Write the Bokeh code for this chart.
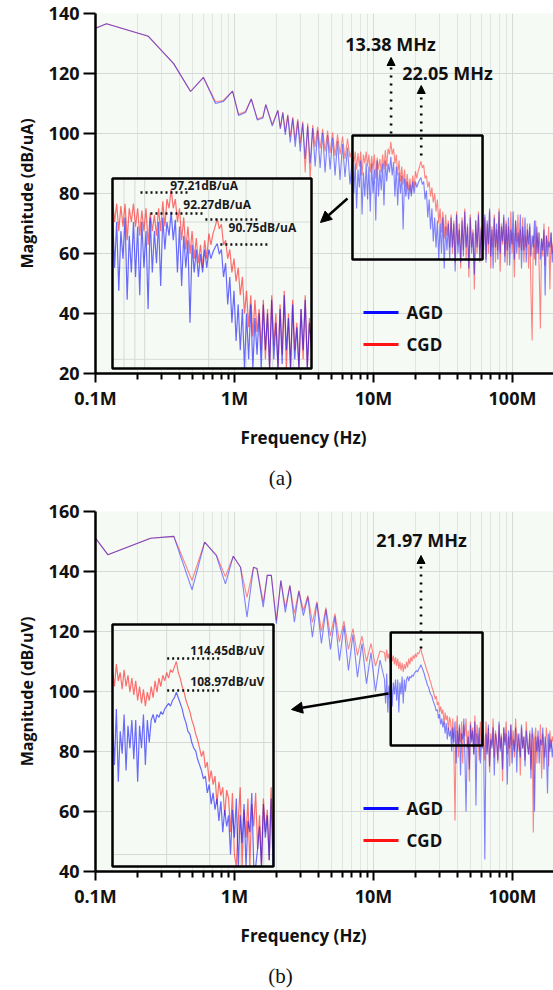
import numpy as np
from bokeh.plotting import figure
from bokeh.models import (Range1d, LogScale, FixedTicker, CustomJSTickFormatter,
                          Arrow, NormalHead)
from bokeh.layouts import column
from bokeh.core.properties import value
from bokeh.embed import file_html
from bokeh.resources import INLINE

MHZ = 1e6

# ======================= DATA =======================
# ---- Panel (a): current spectrum, dB/uA ----
A_LOW_F_MHZ = [0.1, 0.12, 0.24, 0.365, 0.483, 0.598, 0.73, 0.833, 0.968, 1.07,
               1.2, 1.32, 1.46, 1.6, 1.68, 1.87]
A_LOW_AGD = [135.1, 136.6, 132.4, 123.3, 114.0, 118.7, 110.0, 110.7, 114.1, 106.0,
             107.0, 111.5, 104.5, 105.2, 109.6, 102.5]
A_LOW_CGD = [135.1, 136.6, 132.4, 123.3, 114.0, 118.7, 110.6, 111.0, 114.1, 106.4,
             107.3, 111.5, 104.8, 105.5, 109.6, 103.0]
# harmonic comb 2.05 - 7.06 MHz (peak / dip pairs)
A_COMB_AGD = [107.7, 101.5, 106.9, 99.5, 106.0, 97.0, 105.0, 95.5, 104.2, 94.0,
              103.4, 91.5, 102.6, 90.0, 101.8, 89.0, 101.0, 88.5, 100.2, 87.0,
              99.4, 88.0, 98.6, 86.0, 97.6, 84.5, 96.5, 85.5, 95.3, 83.0]
A_COMB_CGD = [107.7, 102.0, 107.1, 100.5, 106.3, 99.0, 105.5, 97.8, 104.8, 96.8,
              104.0, 87.0, 103.4, 84.5, 102.8, 95.5, 102.2, 95.0, 101.6, 94.0,
              101.0, 93.5, 100.4, 92.5, 99.7, 93.0, 99.0, 91.5, 98.3, 92.0]
# zoomed box 7.06 - 60.9 MHz
A_BOX_AGD = [92, 80, 90, 75, 88, 82, 91, 73, 87, 79, 90,
             78, 89, 74, 90, 80, 88, 71, 91, 79, 88,
             81, 90, 76, 91, 84, 90, 87,
             92.27,
             86, 90.5, 79,
             89, 76, 87, 80, 86, 68, 85, 79, 84, 78,
             83, 79, 84, 80, 84, 82,
             83.5, 84.5,
             85.3,
             83, 84,
             78, 81, 72, 78, 68, 75, 64, 72,
             62, 71, 58, 70, 60, 72, 55, 69, 61, 70,
             58, 72, 62, 70, 54, 73, 60, 68, 57, 71,
             59, 74, 62, 69, 55, 72, 60, 67, 53, 71, 62, 73, 58, 68, 63]
A_BOX_CGD = [95, 90, 94, 88, 93.5, 89, 94, 86, 93, 90, 94,
             89, 93, 87, 92.5, 88, 93, 85, 92, 88, 91.5,
             87, 93, 88, 94.5, 89, 95, 93,
             97.21,
             93, 95, 90,
             93, 86, 91, 84, 89, 83, 88, 82, 86.5, 81,
             85, 80, 86, 82, 87.5, 85,
             87.5, 89,
             90.75,
             88.5, 89.5,
             85, 86, 82, 84, 79, 82, 77, 80,
             74, 78, 70, 75, 67, 74, 65, 73, 66, 71,
             62, 73, 60, 71, 57, 74, 63, 70, 55, 72,
             61, 75, 58, 70, 52, 73, 62, 68, 48, 71, 60, 74, 57, 69, 62]
# high band 62 - 197 MHz
A_HI_AGD = [61, 73, 57, 71, 63, 75, 59, 68, 55, 72, 62, 70, 58, 74, 60, 69, 64, 73, 57, 70,
            61, 72, 56, 68, 63, 74, 58, 71, 60, 67, 62, 73, 55, 69, 61, 72, 57, 68, 63, 70,
            59, 66, 62, 71, 56, 69, 60, 67, 58, 65, 61, 68, 46, 66, 59, 64, 62, 67, 57, 63]
A_HI_CGD = [63, 72, 58, 70, 60, 74, 55, 69, 62, 73, 57, 68, 61, 75, 54, 70, 63, 72, 59, 71,
            56, 69, 62, 74, 60, 67, 52, 71, 64, 73, 58, 68, 61, 72, 57, 66, 62, 70, 55, 69,
            47, 31, 66, 58, 71, 60, 67, 54, 35, 65, 59, 70, 56, 66, 62, 69, 48, 67, 60, 64]

# ---- Panel (b): voltage spectrum, dB/uV ----
B_LOW_F_MHZ = [0.1, 0.1226, 0.249, 0.366, 0.495, 0.61, 0.74, 0.86, 0.98, 1.105,
               1.23, 1.37, 1.45, 1.61, 1.72, 1.84]
B_LOW_AGD = [151.1, 145.6, 151.1, 151.7, 133.9, 149.8, 145.3, 135.9, 145.1, 141.4,
             124.8, 141.4, 141.0, 128.1, 138.7, 138.7]
B_LOW_CGD = [151.1, 145.6, 151.1, 151.7, 137.0, 149.8, 145.5, 138.3, 145.1, 141.4,
             131.4, 141.4, 141.0, 129.8, 138.7, 138.7]
# comb 2.0 - 12 MHz (dip / peak pairs)
B_COMB_AGD = [122.6, 137.0, 126.4, 135.3, 123.1, 133.4, 125.3, 131.5, 118.1, 129.5,
              116.0, 127.3, 114.0, 125.0, 110.3, 122.0, 107.0, 119.0, 104.8, 116.0,
              102.6, 113.0, 100.0, 110.5]
B_COMB_CGD = [123.7, 137.0, 128.0, 135.3, 126.0, 133.6, 127.0, 132.0, 123.0, 130.0,
              120.0, 128.0, 118.5, 126.0, 116.5, 123.5, 114.0, 121.0, 112.0, 118.5,
              110.0, 116.0, 108.5, 113.5]
# zoomed region 12 - 60.9 MHz
B_BOX_AGD = [104, 96, 106, 93, 102, 98, 105, 95, 103, 99, 104,
             97, 104, 93, 103, 99, 105, 96, 104, 100,
             104, 105, 103.5, 105, 104.5, 105.5, 105, 106, 106.5, 107, 106.5, 107.5, 108,
             108.97,
             108, 107, 106, 104.5, 103.5, 102, 101.5, 100, 99, 98.5, 97, 96,
             95, 93.5, 94, 91, 92.5, 89, 91, 88, 90, 86, 89.5, 84, 88, 85, 87,
             80, 88, 83, 90, 76, 87, 82, 89, 72, 86, 84, 91, 78, 60, 81, 85, 74, 89, 83, 87,
             79, 90, 62, 86, 82, 88, 76, 84, 81]
B_BOX_CGD = [113, 110, 114, 111, 112.5, 109.5, 113, 110, 112, 109, 111.5,
             108.5, 111, 107.5, 110, 107, 109.5, 106.5, 109, 107.5, 110, 108, 111,
             109, 111.5, 110, 112, 111, 112.5, 111.5, 113, 112.5, 113.5,
             114.45,
             112.5, 111.5, 110, 109, 107.5, 106.5, 105.5, 104, 103, 101.5, 100.5, 99,
             97.5, 98.5, 95.5, 96.5, 93, 95, 92.5, 94, 89, 93, 90.5, 92, 87, 91.5, 90,
             84, 91, 80, 57, 86, 92, 78, 88, 83, 90, 76, 89, 85, 91, 81, 87, 70, 90, 84, 88,
             79, 92, 82, 89, 85, 77, 90, 83, 88]
# high band 62 - 197 MHz
B_HI_AGD = [82, 44, 86, 79, 89, 75, 84, 81, 88, 72, 86, 83, 77, 90, 80, 85, 74, 88, 82, 86,
            69, 87, 81, 89, 76, 84, 80, 88, 73, 86, 83, 78, 89, 81, 85, 75, 87, 82, 79, 86,
            71, 88, 84, 60, 85, 80, 87, 76, 84, 82, 88, 74, 85, 81, 66, 86, 80, 84, 78, 83]
B_HI_CGD = [85, 77, 90, 80, 88, 73, 86, 82, 91, 78, 87, 84, 76, 89, 81, 86, 70, 88, 83, 90,
            79, 85, 75, 89, 82, 87, 78, 91, 84, 80, 86, 72, 88, 81, 85, 77, 90, 83, 79, 87,
            74, 86, 53, 84, 88, 76, 85, 80, 89, 71, 86, 82, 78, 88, 84, 75, 87, 81, 85, 83]

X_TICKS = [1e5, 1e6, 1e7, 1e8]
X_TICK_LABELS = ["0.1M", "1M", "10M", "100M"]
A_Y_TICKS = [20, 40, 60, 80, 100, 120, 140]
B_Y_TICKS = [40, 60, 80, 100, 120, 140, 160]
SERIES = ["AGD", "CGD"]
X_TITLE = "Frequency (Hz)"

# ======================= STYLE / GEOMETRY =======================
BLUE = "#0a0aff"
RED = "#ff1414"
BG = "#f6faf5"
GRID = "#d6dad6"
MINOR_GRID = "#e2e6e2"
FONT = "Open Sans"
W = 553
FL, FR = 95, 553          # frame left / right (px)
PX_PER_DEC = 139.0
XMAX = 1e5 * 10 ** ((FR - FL) / PX_PER_DEC)


def build_freqs(low, comb, comb_lo, comb_hi, box, box_lo, box_hi, hi):
    return np.concatenate([np.array(low),
                           np.geomspace(comb_lo, comb_hi, len(comb), endpoint=False),
                           np.geomspace(box_lo, box_hi, len(box)),
                           np.geomspace(62.0, 197.0, len(hi))]) * MHZ


def panel(cfg):
    H, FT, FB = cfg["H"], cfg["FT"], cfg["FB"]
    y0, y1 = cfg["yr"]
    p = figure(width=W, height=H, frame_width=FR - FL, frame_height=FB - FT,
               x_axis_type="log", x_range=Range1d(1e5, XMAX), y_range=Range1d(y0, y1),
               output_backend="svg", toolbar_location=None,
               min_border_left=FL, min_border_right=0, min_border_top=FT,
               min_border_bottom=H - FB, background_fill_color=BG,
               border_fill_color="white", outline_line_color=None)

    def pv(py):   # pixel-y (figure coords) -> value
        return y1 - (py - FT) * (y1 - y0) / (FB - FT)

    def pf(px):   # pixel-x -> frequency
        return 1e5 * 10 ** ((px - FL) / PX_PER_DEC)

    # axes
    minors = [m * 10 ** e for e in range(5, 9) for m in range(2, 10)]
    p.xaxis.ticker = FixedTicker(ticks=X_TICKS, minor_ticks=minors)
    p.xaxis.formatter = CustomJSTickFormatter(
        args=dict(t=X_TICKS, l=X_TICK_LABELS),
        code="for (let i=0;i<t.length;i++){ if (Math.abs(Math.log10(tick)-Math.log10(t[i]))<1e-6) return l[i]; } return '';")
    p.yaxis.ticker = FixedTicker(ticks=cfg["yticks"])
    for ax in (p.xaxis[0], p.yaxis[0]):
        ax.axis_line_width = 2.5
        ax.axis_line_color = "black"
        ax.major_tick_line_width = 2
        ax.major_tick_line_color = "black"
        ax.major_tick_in = 0
        ax.major_label_text_font = FONT
        ax.major_label_text_font_style = "bold"
        ax.major_label_text_font_size = "18px"
        ax.major_label_text_color = "#111111"
    p.xaxis.major_tick_out = 9
    p.xaxis.minor_tick_out = 6
    p.xaxis.minor_tick_in = 0
    p.xaxis.minor_tick_line_width = 2
    p.xaxis.minor_tick_line_color = "black"
    p.xaxis.major_label_standoff = 3
    p.yaxis.major_tick_out = 12
    p.yaxis.minor_tick_line_color = None
    p.yaxis.major_label_standoff = 4
    p.yaxis.axis_label = cfg["ylabel"]
    p.yaxis.axis_label_text_font = FONT
    p.yaxis.axis_label_text_font_style = "bold"
    p.yaxis.axis_label_text_font_size = "16px"
    p.yaxis.axis_label_standoff = 8
    p.yaxis.axis_label_text_color = "#111111"
    p.xgrid.grid_line_color = GRID
    p.xgrid.minor_grid_line_color = MINOR_GRID
    p.ygrid.grid_line_color = GRID

    f = cfg["f"]
    # main spectra
    p.line(f, cfg["cgd"], line_color=RED, line_alpha=0.5, line_width=1.1)
    p.line(f, cfg["agd"], line_color=BLUE, line_alpha=0.5, line_width=1.1)

    # zoom box on the main spectrum
    bx = cfg["box"]
    p.quad(left=[bx[0]], right=[bx[1]], bottom=[bx[2]], top=[bx[3]],
           fill_color=None, line_color="black", line_width=2.5)

    # inset: its own log/linear ranges placed on the frame
    ix0, ix1, iy0, iy1 = cfg["inset_px"]
    f0, f1, vbot, vtop = cfg["inset_data"]
    dpp = (np.log10(f1) - np.log10(f0)) / (ix1 - ix0)
    xr = Range1d(10 ** (np.log10(f0) - (ix0 - FL) * dpp), 10 ** (np.log10(f1) + (FR - ix1) * dpp))
    vpp = (vtop - vbot) / (iy1 - iy0)
    yr = Range1d(vbot - (FB - iy1) * vpp, vtop + (iy0 - FT) * vpp)
    p.extra_x_ranges = {"ins": xr}
    p.extra_x_scales = {"ins": LogScale()}
    p.extra_y_ranges = {"ins": yr}
    ins = dict(x_range_name="ins", y_range_name="ins")

    p.quad(left=[f0], right=[f1], bottom=[vbot], top=[vtop], fill_color=BG,
           line_color=None, **ins)
    gx = [[g, g] for g in cfg["inset_gx"]]
    gy = [[vbot, vtop]] * len(gx)
    p.multi_line(gx, gy, line_color=GRID, line_width=1, **ins)
    hx = [[f0, f1]] * len(cfg["inset_gy"])
    hy = [[g, g] for g in cfg["inset_gy"]]
    p.multi_line(hx, hy, line_color=GRID, line_width=1, **ins)
    sel = (f >= f0 * 0.999) & (f <= f1 * 1.001)
    p.line(f[sel], np.clip(cfg["cgd"][sel], vbot, vtop), line_color=RED, line_alpha=0.6,
           line_width=1.2, **ins)
    p.line(f[sel], np.clip(cfg["agd"][sel], vbot, vtop), line_color=BLUE, line_alpha=0.6,
           line_width=1.2, **ins)
    # dotted level markers + values inside the inset
    for (xa, xb, yv) in cfg["inset_marks"]:
        p.line([xa, xb], [yv, yv], line_color="#111111", line_width=2.6,
               line_dash="2 3", **ins)
    for (xt, yt, txt) in cfg["inset_texts"]:
        p.text(x=[xt], y=[yt], text=[txt], text_font=value(FONT), text_font_style="bold",
               text_font_size="12px", text_color="#1a1a1a", text_align="left",
               text_baseline="middle", **ins)
    p.quad(left=[f0], right=[f1], bottom=[vbot], top=[vtop], fill_color=None,
           line_color="black", line_width=2.5, **ins)

    # arrow from zoom box to inset
    a = cfg["zoom_arrow"]
    p.add_layout(Arrow(x_start=pf(a[0]), y_start=pv(a[1]), x_end=pf(a[2]), y_end=pv(a[3]),
                       line_color="black", line_width=2.5,
                       end=NormalHead(size=11, fill_color="black", line_color="black")))

    # dotted frequency markers
    for (fm, ys, ye, lx, ly, txt) in cfg["freq_marks"]:
        p.add_layout(Arrow(x_start=fm, y_start=pv(ys), x_end=fm, y_end=pv(ye),
                           line_color="black", line_width=2.6, line_dash="2 6",
                           end=NormalHead(size=8, fill_color="black", line_color="black")))
        p.text(x=[pf(lx)], y=[pv(ly)], text=[txt], text_font=value(FONT),
               text_font_style="bold", text_font_size="18px", text_color="#111111",
               text_align="center", text_baseline="middle")

    # legend
    ly0, ly1 = cfg["legend_y"]
    for name, col, yy in ((SERIES[0], BLUE, ly0), (SERIES[1], RED, ly1)):
        p.segment(x0=[pf(363)], y0=[pv(yy)], x1=[pf(398)], y1=[pv(yy)],
                  line_color=col, line_width=3)
        p.text(x=[pf(406)], y=[pv(yy)], text=[name], text_font=value(FONT),
               text_font_style="bold", text_font_size="17px", text_color="#111111",
               text_align="left", text_baseline="middle")
    return p


def caption(H, title_y, tag, tag_x, tag_y):
    """Strip below a panel holding the x-axis title and the panel tag.
    Its frame is aligned by the column layout with the panel frame (FL..FR),
    so the x range is expressed in page pixels over that span."""
    c = figure(width=W, height=H, x_range=Range1d(FL, FR), y_range=Range1d(H, 0),
               x_axis_location=None, y_axis_location=None, output_backend="svg",
               toolbar_location=None, min_border=0, min_border_left=FL,
               min_border_right=0, outline_line_color=None,
               background_fill_color="white", border_fill_color="white")
    c.grid.visible = False
    c.text(x=[303], y=[title_y], text=[X_TITLE], text_font=value(FONT),
           text_font_style="bold", text_font_size="17px", text_color="#111111",
           text_align="center", text_baseline="middle")
    c.text(x=[tag_x], y=[tag_y], text=[tag], text_font=value("Liberation Serif"),
           text_font_size="21px", text_color="#111111", text_align="center",
           text_baseline="middle")
    return c


fa = build_freqs(A_LOW_F_MHZ, A_COMB_AGD, 2.05, 7.06, A_BOX_AGD, 7.06, 60.9, A_HI_AGD)
fb = build_freqs(B_LOW_F_MHZ, B_COMB_AGD, 2.0, 12.0, B_BOX_AGD, 12.0, 60.9, B_HI_AGD)

cfg_a = dict(
    H=417, FT=13, FB=373, yr=(20, 140), yticks=A_Y_TICKS, ylabel="Magnitude (dB/uA)",
    f=fa,
    agd=np.array(A_LOW_AGD + A_COMB_AGD + A_BOX_AGD + A_HI_AGD, dtype=float),
    cgd=np.array(A_LOW_CGD + A_COMB_CGD + A_BOX_CGD + A_HI_CGD, dtype=float),
    box=(7.06e6, 6.09e7, 58.0, 99.3),
    inset_px=(112, 311, 178, 368), inset_data=(7.06e6, 6.09e7, 58.0, 99.5),
    inset_gx=[8e6, 9e6, 1e7, 2e7, 3e7, 4e7, 5e7], inset_gy=[60, 70, 80, 90],
    inset_marks=[(9.56e6, 16.07e6, 96.44), (10.65e6, 18.7e6, 91.86),
                 (19.3e6, 33.9e6, 90.55), (22.7e6, 37.8e6, 85.09)],
    inset_texts=[(13.2e6, 98.0, "97.21dB/uA"), (15.2e6, 93.8, "92.27dB/uA"),
                 (24.8e6, 88.8, "90.75dB/uA")],
    zoom_arrow=(347, 198, 320, 222),
    freq_marks=[(13.38e6, 133, 57, 390, 43, "13.38 MHz"),
                (22.05e6, 155, 85, 447, 72, "22.05 MHz")],
    legend_y=(312, 344))

cfg_b = dict(
    H=420, FT=16, FB=376, yr=(40, 160), yticks=B_Y_TICKS, ylabel="Magnitude (dB/uV)",
    f=fb,
    agd=np.array(B_LOW_AGD + B_COMB_AGD + B_BOX_AGD + B_HI_AGD, dtype=float),
    cgd=np.array(B_LOW_CGD + B_COMB_CGD + B_BOX_CGD + B_HI_CGD, dtype=float),
    box=(1.33e7, 6.09e7, 82.0, 119.7),
    inset_px=(112, 273, 129, 371), inset_data=(12e6, 54.8e6, 77.86, 121.07),
    inset_gx=[2e7, 3e7, 4e7, 5e7], inset_gy=[80, 100, 120],
    inset_marks=[(20.1e6, 33.2e6, 115.0), (20.1e6, 33.2e6, 109.29)],
    inset_texts=[(25.0e6, 116.43, "114.45dB/uV"), (25.0e6, 110.89, "108.97dB/uV")],
    zoom_arrow=(388, 198, 291, 214),
    freq_marks=[(21.97e6, 153, 60, 421, 44, "21.97 MHz")],
    legend_y=(313, 345))

pa = panel(cfg_a)
ca = caption(78, 20, "(a)", 280, 60)          # page y 417 .. 495
pb = panel(cfg_b)                              # page y 495 .. 915
cb = caption(75, 20, "(b)", 280, 60)          # page y 915 .. 990
layout = column(pa, ca, pb, cb, spacing=0)
open("out.html", "w").write(file_html(layout, INLINE))
